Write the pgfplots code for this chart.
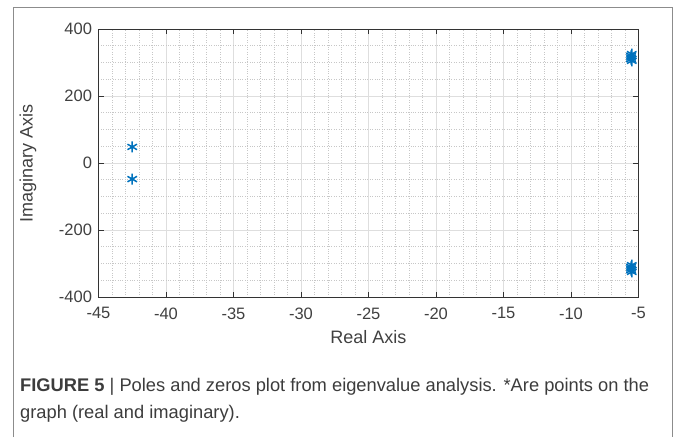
\documentclass[border=0pt]{standalone}
\usepackage{pgfplots}
\pgfplotsset{compat=1.18}
\usepackage{fontspec}
\setmainfont{Liberation Sans}
\definecolor{mblue}{RGB}{0,114,189}
\definecolor{txtgray}{RGB}{64,64,64}
\definecolor{capgray}{RGB}{60,60,60}
\begin{document}
\begin{tikzpicture}[x=1pt,y=1pt]
\useasboundingbox (0,-437) rectangle (678,0);
\draw[black!45, line width=1pt] (13,-437) -- (13,-7) -- (672,-7) -- (672,-437);
\begin{axis}[
 at={(98.5pt,-297pt)}, anchor=south west,
 scale only axis, width=540pt, height=268pt,
 xmin=-45, xmax=-5, ymin=-400, ymax=400,
 xtick={-45,-40,...,-5}, ytick={-400,-200,...,400},
 minor xtick={-44,-43,...,-6}, minor ytick={-350,-300,...,350},
 grid=both,
 major grid style={black!13, line width=0.6pt},
 minor grid style={black!22, dotted, line width=0.6pt},
 tick align=inside, major tick length=5pt, minor tick length=0pt,
 tick style={black!80, line width=0.8pt},
 axis line style={black!80, line width=0.8pt},
 ticklabel style={font=\fontsize{16.5}{18}\selectfont, text=txtgray},
 xticklabel shift=7pt, yticklabel shift=3pt,
 /pgf/number format/assume math mode=true,
 xlabel={Real Axis}, ylabel={Imaginary Axis},
 label style={font=\fontsize{18}{20}\selectfont, text=txtgray},
 xlabel style={at={(axis description cs:0.5,-0.149)}, anchor=center},
 ylabel style={at={(axis description cs:-0.1306,0.5)}, anchor=center},
 clip=false,
]
\addplot[only marks, mark=asterisk, mark size=5.5pt, mblue, line width=1.5pt] coordinates {
 (-42.5,48) (-42.5,-48)
 (-5.5,325) (-5.55,320) (-5.55,315) (-5.55,310) (-5.5,305)
 (-5.5,-325) (-5.55,-320) (-5.55,-315) (-5.55,-310) (-5.5,-305)
};
\end{axis}
\node[anchor=base west, font=\fontsize{18.3}{20}\selectfont, text=capgray, inner sep=0pt] at (20,-391)
 {\textbf{FIGURE 5} | Poles and zeros plot from eigenvalue analysis. *Are points on the};
\node[anchor=base west, font=\fontsize{18.3}{20}\selectfont, text=capgray, inner sep=0pt] at (20,-418)
 {graph (real and imaginary).};
\end{tikzpicture}
\end{document}
